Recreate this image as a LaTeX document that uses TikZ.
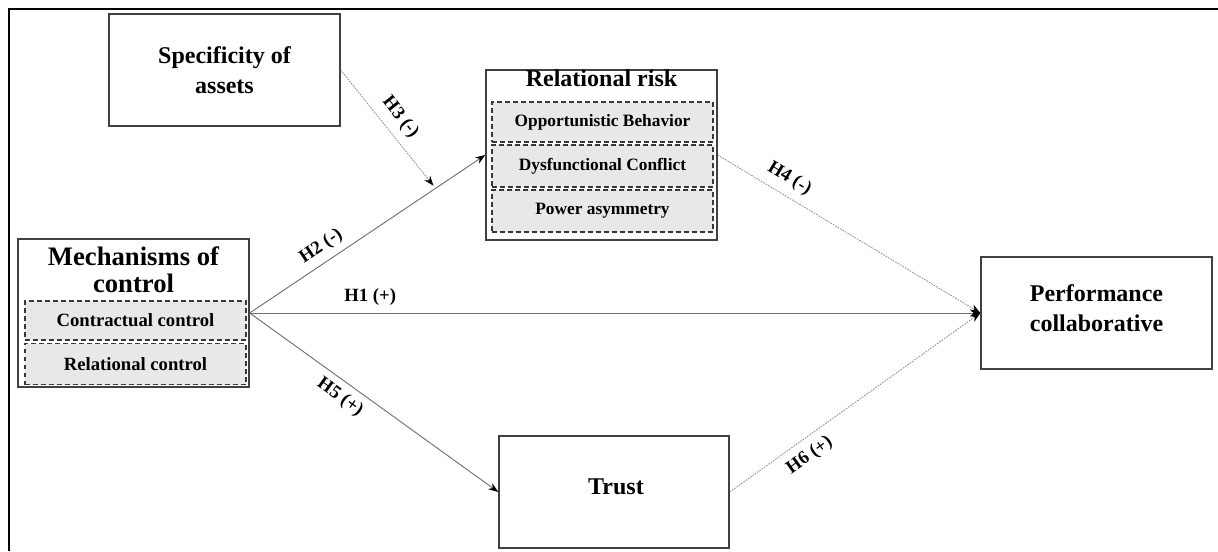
\documentclass[tikz,border=0pt]{standalone}
\usepackage{fontspec}
\setmainfont{Liberation Serif}
\usetikzlibrary{arrows.meta,calc}
\definecolor{boxc}{HTML}{404040}
\definecolor{subc}{HTML}{383838}
\definecolor{subfill}{HTML}{E8E8E8}
\definecolor{linec}{HTML}{707070}
\definecolor{dotc}{HTML}{858585}
\begin{document}
\begin{tikzpicture}[x=0.75pt,y=-0.75pt,
  box/.style={draw=boxc, line width=1.1pt, fill=white, minimum width=173.25pt, inner sep=0pt},
  subbox/.style={draw=subc, dash pattern=on 3.5pt off 2.5pt, fill=subfill, line width=0.9pt,
     minimum width=165.75pt, minimum height=30pt, inner sep=0pt,
     font=\fontsize{13}{15}\selectfont\bfseries},
  title/.style={font=\fontsize{18}{22}\selectfont\bfseries, align=center, inner sep=0pt},
  hyp/.style={font=\fontsize{14}{16}\selectfont\bfseries, inner sep=1pt},
  solidline/.style={draw=linec, line width=0.7pt},
  dotline/.style={draw=dotc, line width=0.6pt, dash pattern=on 1.2pt off 0.9pt},
  tip/.style={-{Stealth[length=7.5pt,width=5.5pt,color=black]}}
]
\useasboundingbox (0,0) rectangle (1218,551);
% outer frame
\draw[line width=1.5pt] (9,551) -- (9,9) -- (1218,9);

% boxes
\node[box, minimum height=84pt] (spec) at (224.5,70) {};
\node[title] (spect) at (224.5,70) {Specificity of\\assets};

\node[box, minimum height=111pt] (mech) at (133.5,313) {};
\node[title, font=\fontsize{20}{20}\selectfont\bfseries] (mecht) at (133.5,270) {Mechanisms of\\control};
\node[subbox, minimum height=29.25pt, font=\fontsize{14}{16}\selectfont\bfseries] (cc) at (135.5,320.5) {Contractual control};
\node[subbox, minimum height=30.75pt, font=\fontsize{14}{16}\selectfont\bfseries] (rc) at (135.5,364) {Relational control};

\node[box, minimum height=127.5pt] (risk) at (601.5,155) {};
\node[title, anchor=base] (riskt) at (601.5,86) {Relational risk};
\node[subbox, minimum height=30pt] (opp) at (602.5,122) {Opportunistic Behavior};
\node[subbox, minimum height=31.5pt] (dys) at (602.5,166) {Dysfunctional Conflict};
\node[subbox, minimum height=31.5pt] (pow) at (602.5,211) {Power asymmetry};

\node[box, minimum height=84pt] (perf) at (1096.5,313) {};
\node[title] (perft) at (1096.5,308) {Performance\\collaborative};

\node[box, minimum height=84pt, minimum width=172.5pt] (trust) at (614,492) {};
\node[title] (trustt) at (616,487) {Trust};

% connectors
\draw[solidline, tip] (mech.east) -- node[hyp, pos=0.34, sloped, above=4pt] {H2 (-)} (risk.west);
\draw[solidline, tip] (mech.east) -- node[hyp, pos=0.165, above=4.5pt] {H1 (+)} (perf.west);
\draw[solidline, tip] (mech.east) -- node[hyp, pos=0.40, sloped, below=4pt] {H5 (+)} (trust.west);
\coordinate (h2mid) at ($(mech.east)!0.789!(risk.west)$);
\draw[dotline, tip, shorten >=2.5pt] (spec.east) -- node[hyp, pos=0.49, sloped, above=5pt] {H3 (-)} (h2mid);
\draw[dotline, tip] (risk.east) -- node[hyp, pos=0.24, sloped, above=5pt] {H4 (-)} (perf.west);
\draw[dotline, tip] (trust.east) -- node[hyp, pos=0.28, sloped, below=5pt] {H6 (+)} (perf.west);
\end{tikzpicture}
\end{document}
